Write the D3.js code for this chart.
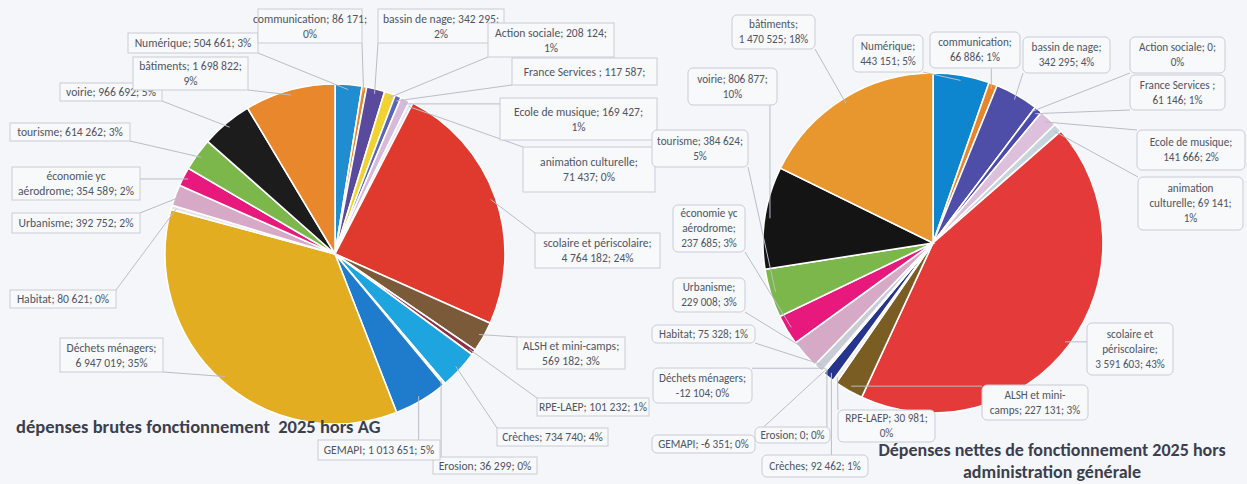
<!DOCTYPE html>
<html>
<head>
<meta charset="utf-8">
<script src="https://cdn.jsdelivr.net/npm/d3@7"></script>
<style>
  body { margin: 0; background: #f5f6f9; }
  svg { display: block; font-family: Calibri, Carlito, Lato, sans-serif; }
</style>
</head>
<body>
<script>
// postes de dépenses (même ordre dans les deux camemberts)
var categories = ["Numérique", "communication", "bassin de nage", "Action sociale", "France Services ",
  "Ecole de musique", "animation culturelle", "scolaire et périscolaire", "ALSH et mini-camps", "RPE-LAEP",
  "Crèches", "Erosion", "GEMAPI", "Déchets ménagers", "Habitat", "Urbanisme", "économie yc aérodrome",
  "tourisme", "voirie", "bâtiments"];

var brutes = [504661, 86171, 342295, 208124, 117587, 169427, 71437, 4764182, 569182, 101232,
  734740, 36299, 1013651, 6947019, 80621, 392752, 354589, 614262, 966692, 1698822];

var nettes = [443151, 66886, 342295, 0, 61146, 141666, 69141, 3591603, 227131, 30981,
  92462, 0, -6351, -12104, 75328, 229008, 237685, 384624, 806877, 1470525];

var colorsBrut = ["#1f8dd0", "#e8842c", "#5a4a9e", "#f1d22e", "#5866b5", "#d7b9dc", "#e4e8f3", "#e03a2e",
  "#7b5a3a", "#8e2f48", "#1ea5df", "#c9d6e6", "#1f7ccc", "#e3ad22", "#e8e4ee", "#d6a9c6", "#e8197c",
  "#7cb74c", "#1c1c1c", "#e8872c"];
var colorsNet = ["#0d86cf", "#e8842c", "#4e4ea8", "#f1d22e", "#4a4ab0", "#dcc0dc", "#c8d4dc", "#e43a3a",
  "#7a5d22", "#eef0f4", "#26348c", "#c9d6e6", "#1f7ccc", "#e3ad22", "#c8ccd4", "#d6a9c6", "#e8197c",
  "#7cb74c", "#141414", "#e8962e"];

// boîtes d'étiquettes : x, y, w, h, coupures de ligne (index de mot), nb max de lignes
var boxesBrut = [
  [128, 33, 130, 20, []], [258, 9, 104, 34, [2]], [378, 9, 126, 34, [4]], [488, 23, 126, 34, [3]],
  [512, 58, 145, 27, [4], 1], [500, 98, 157, 42, [4]], [523, 147, 132, 45, [2]], [535, 233, 125, 35, [3]],
  [517, 337, 108, 32, [4]], [537, 398, 112, 18, []], [497, 428, 111, 18, []], [433, 457, 104, 17, []],
  [318, 440, 122, 20, []], [60, 338, 103, 34, [2]], [10, 290, 106, 18, []], [12, 213, 128, 20, []],
  [12, 167, 128, 33, [2]], [10, 123, 120, 18, []], [60, 83, 102, 18, []], [133, 57, 115, 33, [2]]
];
var boxesNet = [
  [853, 35, 70, 37, [1]], [930, 32, 90, 36, [1]], [1023, 37, 87, 36, [3]], [1130, 37, 95, 36, [3]],
  [1130, 75, 95, 35, [3]], [1137, 130, 108, 40, [3]], [1138, 177, 105, 53, [1, 3]], [1087, 323, 86, 52, [2, 3]],
  [982, 385, 106, 35, [3]], [838, 410, 97, 32, [3]], [762, 455, 106, 22, []], [755, 427, 75, 16, []],
  [652, 435, 103, 18, []], [653, 368, 99, 35, [2]], [652, 325, 103, 18, []], [673, 278, 72, 34, [1]],
  [673, 205, 72, 47, [2, 3]], [652, 130, 96, 37, [2]], [688, 68, 89, 37, [2]], [732, 15, 83, 34, [1]]
];

var W = 1247, H = 484;
var fr = d3.formatLocale({decimal: ",", thousands: "\u00a0", grouping: [3], currency: ["", " €"], minus: "-"});
var fmt = fr.format(",d");

var svg = d3.select("body").append("svg").attr("width", W).attr("height", H);

function drawPie(values, colors, boxes, cx, cy, r, opts) {
  var total = d3.sum(values, function(v) { return Math.abs(v); });
  var pie = d3.pie().sort(null).value(function(d) { return Math.abs(d.v); });
  var data = categories.map(function(c, i) { return {name: c, v: values[i], i: i}; });
  var arcs = pie(data);
  var arc = d3.arc().innerRadius(0).outerRadius(r);
  var edge = d3.arc().innerRadius(r * 0.97).outerRadius(r * 0.97);

  var g = svg.append("g").attr("transform", "translate(" + cx + "," + cy + ")");
  g.selectAll("path").data(arcs).enter().append("path")
      .attr("d", arc)
      .attr("fill", function(d) { return colors[d.data.i]; })
      .attr("stroke", "#fff")
      .attr("stroke-width", 1.6);

  // lignes de rappel
  arcs.forEach(function(d) {
    var b = boxes[d.data.i];
    var c = edge.centroid(d);
    var ax = cx + c[0], ay = cy + c[1];
    var tx = Math.max(b[0], Math.min(b[0] + b[2], ax));
    var ty = Math.max(b[1], Math.min(b[1] + b[3], ay));
    svg.append("line")
        .attr("x1", ax).attr("y1", ay).attr("x2", tx).attr("y2", ty)
        .attr("stroke", "#b9bdc9").attr("stroke-width", 1);
  });

  // étiquettes
  arcs.forEach(function(d) {
    var b = boxes[d.data.i];
    var pct = Math.round(Math.abs(d.data.v) / total * 100) + "%";
    var label = d.data.name + "; " + fmt(d.data.v) + "; " + pct;
    var words = [];
    label.split(" ").forEach(function(w) {
      var k = w.indexOf("-");
      if (k > 0 && k < w.length - 1) words.push(w.slice(0, k + 1), w.slice(k + 1));
      else words.push(w);
    });
    var lines = [], cur = "";
    words.forEach(function(w, j) {
      if (b[4].indexOf(j) >= 0) { lines.push(cur); cur = ""; }
      cur = cur == "" ? w : (/-$/.test(cur) ? cur + w : cur + " " + w);
    });
    lines.push(cur);
    if (b[5]) lines = lines.slice(0, b[5]);

    svg.append("rect")
        .attr("x", b[0]).attr("y", b[1]).attr("width", b[2]).attr("height", b[3])
        .attr("rx", opts.rx).attr("ry", opts.rx)
        .attr("fill", "#f8f9fb").attr("stroke", "#c9ccd6").attr("stroke-width", 1);
    var t = svg.append("text")
        .attr("text-anchor", "middle")
        .attr("font-size", opts.fs)
        .attr("fill", "#4f5565");
    var lh = opts.lh;
    var y0 = b[1] + b[3] / 2 - (lines.length - 1) * lh / 2 + opts.fs * 0.35;
    lines.forEach(function(l, j) {
      t.append("tspan").attr("x", b[0] + b[2] / 2).attr("y", y0 + j * lh).text(l);
    });
  });
}

drawPie(brutes, colorsBrut, boxesBrut, 335, 254, 170, {rx: 0, fs: 11.6, lh: 15});
drawPie(nettes, colorsNet, boxesNet, 933, 243, 170, {rx: 5, fs: 11.2, lh: 15});

svg.append("text")
    .attr("x", 16).attr("y", 433)
    .attr("font-size", 18.5).attr("font-weight", "bold").attr("fill", "#3b3f4e")
    .attr("xml:space", "preserve")
    .text("dépenses brutes fonctionnement  2025 hors AG");

var t2 = svg.append("text")
    .attr("text-anchor", "middle")
    .attr("font-size", 18).attr("font-weight", "bold").attr("fill", "#3b3f4e");
t2.append("tspan").attr("x", 1052).attr("y", 456).text("Dépenses nettes de fonctionnement 2025 hors");
t2.append("tspan").attr("x", 1052).attr("y", 478).text("administration générale");
</script>
</body>
</html>
